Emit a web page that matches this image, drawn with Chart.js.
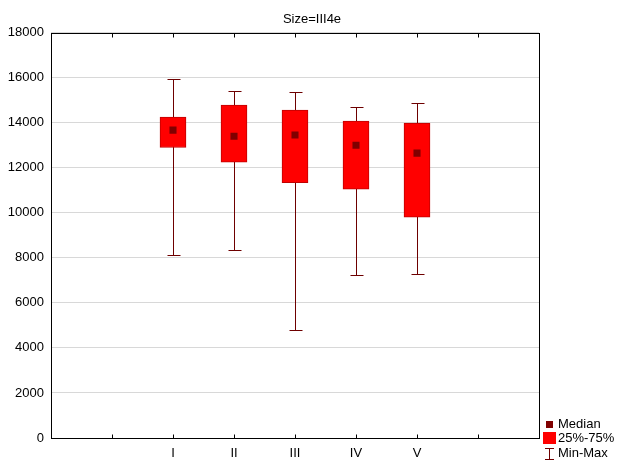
<!DOCTYPE html>
<html><head><meta charset="utf-8">
<script src="https://cdn.jsdelivr.net/npm/chart.js@4"></script>
<style>html,body{margin:0;padding:0;background:#fff}</style>
</head><body>
<canvas id="c" width="624" height="468"></canvas>
<script>
const chartTitle = 'Size=III4e';
const categories = ['I', 'II', 'III', 'IV', 'V'];
const minValues = [8120, 8340, 4790, 7250, 7290];
const q1Values = [12900, 12250, 11340, 11050, 9810];
const medianValues = [13670, 13400, 13450, 13000, 12650];
const q3Values = [14250, 14780, 14560, 14070, 13980];
const maxValues = [15930, 15400, 15360, 14690, 14870];
const yTicks = [0, 2000, 4000, 6000, 8000, 10000, 12000, 14000, 16000, 18000];
const legendLabels = ['Median', '25%-75%', 'Min-Max'];

const FONT = '"Liberation Sans", Arial, sans-serif';
const labels = ['', '', ...categories, '', ''];
const pad = arr => [null, null, ...arr, null, null];
const boxData = pad(categories.map((c, i) => [q1Values[i], q3Values[i]]));

const boxPlugin = {
  id: 'boxExtras',
  beforeDatasetsDraw(chart) {
    const ctx = chart.ctx, xs = chart.scales.x, ys = chart.scales.y;
    ctx.save();
    ctx.strokeStyle = '#6e0000';
    ctx.lineWidth = 1;
    categories.forEach((c, i) => {
      const x = Math.round(xs.getPixelForValue(i + 2)) + 0.5;
      const yMin = Math.round(ys.getPixelForValue(minValues[i])) + 0.5;
      const yMax = Math.round(ys.getPixelForValue(maxValues[i])) + 0.5;
      ctx.beginPath();
      ctx.moveTo(x, yMax); ctx.lineTo(x, yMin);
      ctx.moveTo(x - 6, yMax); ctx.lineTo(x + 7, yMax);
      ctx.moveTo(x - 6, yMin); ctx.lineTo(x + 7, yMin);
      ctx.stroke();
    });
    ctx.restore();
  },
  afterDraw(chart) {
    const ctx = chart.ctx, a = chart.chartArea, xs = chart.scales.x;
    ctx.save();
    ctx.strokeStyle = '#000';
    ctx.lineWidth = 1;
    const L = Math.round(a.left) + 0.5, R = Math.round(a.right) + 0.5;
    const T = Math.round(a.top) + 0.5, B = Math.round(a.bottom) + 0.5;
    ctx.strokeRect(L, T, R - L, B - T);
    ctx.beginPath();
    for (let i = 0; i < labels.length; i++) {
      const x = Math.round(xs.getPixelForTick(i)) + 0.5;
      ctx.moveTo(x, B); ctx.lineTo(x, B - 4);
      ctx.moveTo(x, T); ctx.lineTo(x, T + 4);
    }
    ctx.stroke();
    // legend
    const lx = Math.round(a.right) + 4;
    ctx.font = '13px ' + FONT;
    ctx.textBaseline = 'middle';
    ctx.textAlign = 'left';
    ctx.fillStyle = '#800000';
    ctx.fillRect(lx + 3, 421, 7, 7);
    ctx.fillStyle = '#ff0000';
    ctx.fillRect(lx, 432, 13, 12);
    ctx.strokeStyle = '#6e0000';
    ctx.beginPath();
    ctx.moveTo(lx + 6.5, 448); ctx.lineTo(lx + 6.5, 460);
    ctx.moveTo(lx + 2, 448.5); ctx.lineTo(lx + 11, 448.5);
    ctx.moveTo(lx + 2, 459.5); ctx.lineTo(lx + 11, 459.5);
    ctx.stroke();
    ctx.fillStyle = '#000';
    ctx.fillText(legendLabels[0], lx + 15, 424);
    ctx.fillText(legendLabels[1], lx + 15, 438.5);
    ctx.fillText(legendLabels[2], lx + 15, 453.5);
    ctx.restore();
  }
};

new Chart(document.getElementById('c'), {
  data: {
    labels: labels,
    datasets: [
      {
        type: 'line',
        label: legendLabels[0],
        data: pad(medianValues),
        showLine: false,
        pointStyle: 'rect',
        pointRadius: 5,
        pointBorderWidth: 0,
        pointBackgroundColor: '#800000',
        order: 0
      },
      {
        type: 'bar',
        label: legendLabels[1],
        data: boxData,
        backgroundColor: '#ff0000',
        borderColor: '#c00000',
        borderWidth: 1,
        borderSkipped: false,
        barThickness: 26,
        order: 1
      }
    ]
  },
  options: {
    responsive: false,
    animation: false,
    devicePixelRatio: 1,
    layout: { padding: 0 },
    plugins: {
      legend: { display: false },
      tooltip: { enabled: false },
      title: {
        display: true,
        text: chartTitle,
        color: '#000',
        font: { family: FONT, size: 13, weight: 'normal' },
        padding: { top: 12, bottom: 5 }
      }
    },
    scales: {
      x: {
        type: 'category',
        offset: false,
        grid: { display: false, drawTicks: false },
        border: { display: false },
        ticks: { color: '#000', font: { family: FONT, size: 13 }, padding: 8, autoSkip: false, maxRotation: 0 },
        afterFit(s) { s.height = 30; }
      },
      y: {
        min: 0,
        max: 18000,
        afterBuildTicks(s) { s.ticks = yTicks.map(v => ({ value: v })); },
        grid: { color: '#d8d8d8', drawTicks: false },
        border: { display: false },
        ticks: { color: '#000', font: { family: FONT, size: 13 }, padding: 7, callback: v => String(v) },
        afterFit(s) { s.width = 51; }
      },
      legendSpace: {
        type: 'linear',
        position: 'right',
        display: true,
        grid: { display: false, drawOnChartArea: false, drawTicks: false },
        border: { display: false },
        ticks: { display: false },
        afterFit(s) { s.width = 85; }
      }
    }
  },
  plugins: [boxPlugin]
});
</script>
</body></html>
